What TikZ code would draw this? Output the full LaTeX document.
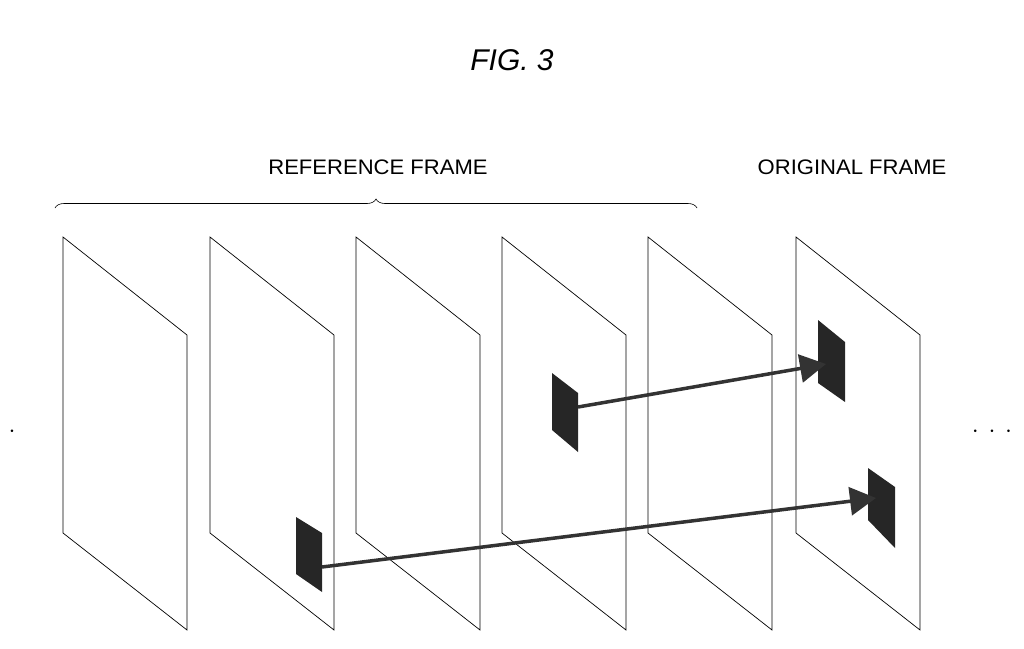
\documentclass[tikz,border=0pt]{standalone}
\usepackage{fontspec}
\setmainfont{Liberation Sans}
\usetikzlibrary{arrows.meta, decorations.pathreplacing}
\begin{document}
\begin{tikzpicture}[x=1pt, y=-1pt,
    frame/.style={draw, line width=0.7pt},
    block/.style={fill=black!85},
    motion/.style={-{Triangle[length=26pt, width=28pt]}, line width=3.5pt, black!80},
    label/.style={font=\fontsize{21}{24}\selectfont, xscale=1.05}]
  \useasboundingbox (0,0) rectangle (1024,648);
  \node (fig) at (512,60) {\fontsize{30}{36}\selectfont\itshape FIG. 3};
  \node[label] (ref-label) at (378,167) {REFERENCE FRAME};
  \node[label] (org-label) at (852,167) {ORIGINAL FRAME};
  \draw[decorate, decoration={brace, amplitude=9pt}, line width=0.6pt] (55,208) -- (697,208);
  % frames
  \foreach \x/\n in {63/1, 210/2, 356/3, 502/4, 648/5, 796/6} {
    \draw[frame] (\x,237) -- (\x+124,335) -- (\x+124,630) -- (\x,533) -- cycle;
  };
  % blocks
  \fill[block] (296,517) -- (322,533) -- (322,592) -- (296,574) -- cycle;
  \fill[block] (552,373) -- (578,393) -- (578,452) -- (552,430) -- cycle;
  \fill[block] (818,320) -- (845,342) -- (845,402) -- (818,383) -- cycle;
  \fill[block] (868,468) -- (895,487) -- (895,548) -- (868,520) -- cycle;
  \coordinate (src1) at (578,407);
  \coordinate (dst1) at (826,364);
  \coordinate (src2) at (322,567);
  \coordinate (dst2) at (876,498);
  \draw[motion] (src1) -- (dst1);
  \draw[motion] (src2) -- (dst2);
  \node (dots-l) at (12,432) {\fontsize{24}{26}\selectfont$\cdot$};
  \node (dots-r) at (992,432) {\fontsize{24}{26}\selectfont$\cdot\,\cdot\,\cdot$};
\end{tikzpicture}
\end{document}
